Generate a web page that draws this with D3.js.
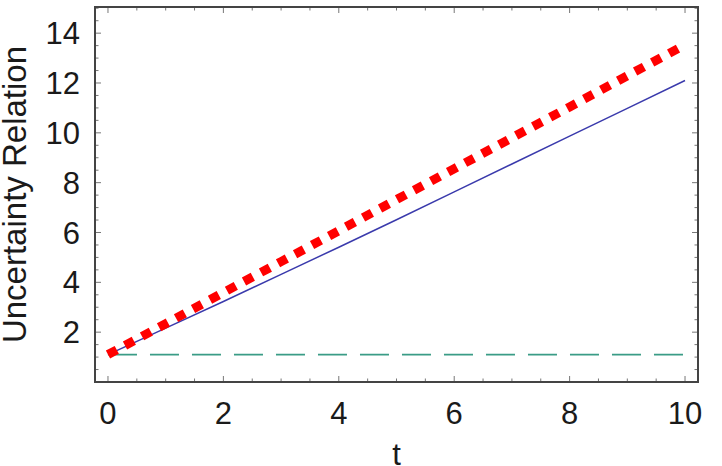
<!DOCTYPE html>
<html>
<head>
<meta charset="utf-8">
<script src="https://cdn.jsdelivr.net/npm/d3@7"></script>
<style>
  body { margin: 0; background: #fff; }
  svg { display: block; font-family: "Liberation Sans", Arial, sans-serif; }
</style>
</head>
<body>
<div class="canvas"></div>
<script>
// data
const tValues = [0, 1, 2, 3, 4, 5, 6, 7, 8, 9, 10];
const solidValues = [1.1, 2.16, 3.23, 4.32, 5.41, 6.51, 7.63, 8.75, 9.87, 10.98, 12.1];
const dottedValues = [1.1, 2.34, 3.59, 4.83, 6.07, 7.32, 8.56, 9.80, 11.04, 12.29, 13.53];
const dashedValues = [1.1, 1.1, 1.1, 1.1, 1.1, 1.1, 1.1, 1.1, 1.1, 1.1, 1.1];
const xTicks = [0, 2, 4, 6, 8, 10];
const yTicks = [2, 4, 6, 8, 10, 12, 14];

const dims = {width: 722, height: 466};
const frame = {left: 95, right: 698, top: 7, bottom: 382};

const svg = d3.select('.canvas')
    .append('svg')
    .attr('width', dims.width)
    .attr('height', dims.height);

const x = d3.scaleLinear()
    .domain([-0.225, 10.225])
    .range([frame.left, frame.right]);

const y = d3.scaleLinear()
    .domain([0, 15.05])
    .range([frame.bottom, frame.top]);

// minor ticks every 0.5
const xMinor = d3.range(0, 10.01, 0.5).filter(v => !xTicks.includes(v));
const yMinor = d3.range(0.5, 15.01, 0.5).filter(v => !yTicks.includes(v));

const tickGroup = svg.append('g')
    .attr('stroke', '#777')
    .attr('stroke-width', 1);

const addTicks = (vals, len) => {
    vals.forEach(v => {
        // bottom + top
        tickGroup.append('line')
            .attr('x1', x(v)).attr('x2', x(v))
            .attr('y1', frame.bottom).attr('y2', frame.bottom - len);
        tickGroup.append('line')
            .attr('x1', x(v)).attr('x2', x(v))
            .attr('y1', frame.top).attr('y2', frame.top + len);
    });
};
const addYTicks = (vals, len) => {
    vals.forEach(v => {
        tickGroup.append('line')
            .attr('x1', frame.left).attr('x2', frame.left + len)
            .attr('y1', y(v)).attr('y2', y(v));
        tickGroup.append('line')
            .attr('x1', frame.right).attr('x2', frame.right - len)
            .attr('y1', y(v)).attr('y2', y(v));
    });
};
addTicks(xTicks, 6);
addTicks(xMinor, 3.5);
addYTicks(yTicks, 6);
addYTicks(yMinor, 3.5);

// lines
const line = vals => d3.line()
    .x((d, i) => x(tValues[i]))
    .y(d => y(d))(vals);

svg.append('path')
    .attr('d', line(dashedValues))
    .attr('fill', 'none')
    .attr('stroke', '#3a9c86')
    .attr('stroke-width', 1.6)
    .attr('stroke-dasharray', '29,13');

svg.append('path')
    .attr('d', line(solidValues))
    .attr('fill', 'none')
    .attr('stroke', '#3a3aac')
    .attr('stroke-width', 1.5);

svg.append('path')
    .attr('d', line(dottedValues))
    .attr('fill', 'none')
    .attr('stroke', '#ff0000')
    .attr('stroke-width', 9)
    .attr('stroke-dasharray', '10,9.3');

// frame
svg.append('rect')
    .attr('x', frame.left)
    .attr('y', frame.top)
    .attr('width', frame.right - frame.left)
    .attr('height', frame.bottom - frame.top)
    .attr('fill', 'none')
    .attr('stroke', '#444')
    .attr('stroke-width', 2);

// tick labels
svg.append('g')
    .selectAll('text')
    .data(xTicks)
    .enter()
    .append('text')
    .attr('x', d => x(d))
    .attr('y', 424)
    .attr('text-anchor', 'middle')
    .attr('font-size', 31)
    .attr('fill', '#1a1a1a')
    .text(d => d);

svg.append('g')
    .selectAll('text')
    .data(yTicks)
    .enter()
    .append('text')
    .attr('x', 80)
    .attr('y', d => y(d))
    .attr('dy', '0.36em')
    .attr('text-anchor', 'end')
    .attr('font-size', 31)
    .attr('fill', '#1a1a1a')
    .text(d => d);

// axis labels
svg.append('text')
    .attr('x', (frame.left + frame.right) / 2)
    .attr('y', 465)
    .attr('text-anchor', 'middle')
    .attr('font-size', 31)
    .attr('fill', '#1a1a1a')
    .text('t');

svg.append('text')
    .attr('transform', `translate(26, ${(frame.top + frame.bottom) / 2}) rotate(-90)`)
    .attr('text-anchor', 'middle')
    .attr('font-size', 33)
    .attr('fill', '#1a1a1a')
    .text('Uncertainty Relation');
</script>
</body>
</html>
